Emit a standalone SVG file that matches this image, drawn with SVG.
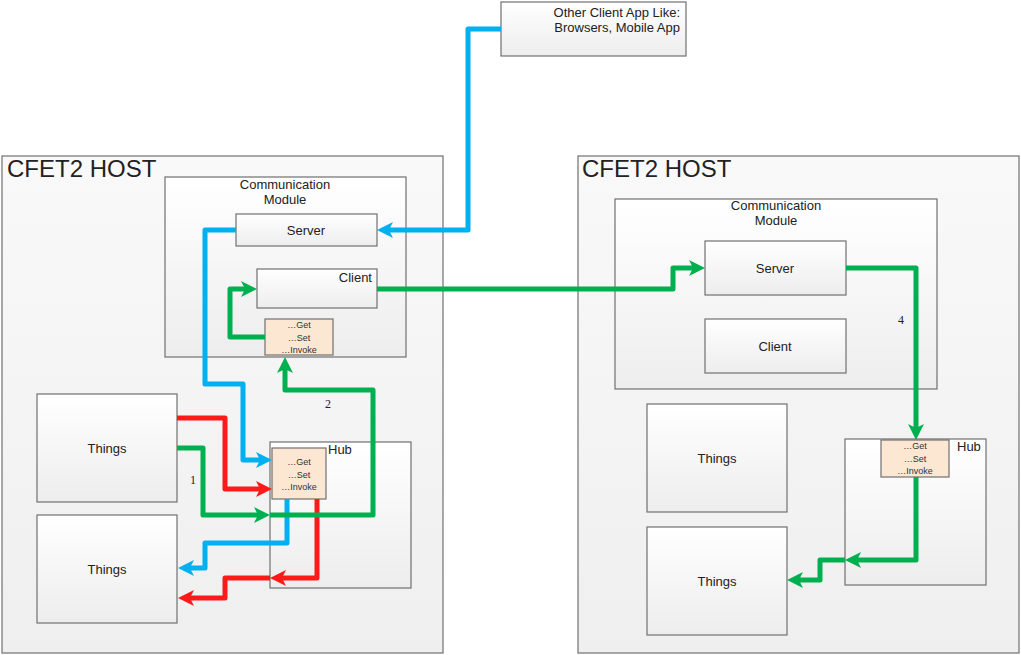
<svg xmlns="http://www.w3.org/2000/svg" width="1021" height="655" viewBox="0 0 1021 655">
<style>
.box{stroke:#707070;stroke-width:1.2;fill:url(#g)}
.host{stroke:#707070;stroke-width:1.2;fill:url(#gh)}
.op{stroke:#707070;stroke-width:1.2;fill:#FCE7D2}
.t{font-family:"Liberation Sans",Arial,sans-serif;font-size:13px;fill:#222}
.h{font-family:"Liberation Sans",Arial,sans-serif;font-size:24px;fill:#222}
.s{font-family:"Liberation Sans",Arial,sans-serif;font-size:9px;fill:#333;text-anchor:middle}
.n{font-family:"Liberation Serif","Times New Roman",serif;font-size:12px;fill:#222}
.c{fill:none;stroke-width:5;stroke-linejoin:round;stroke-linecap:butt}
.b{stroke:#00B0F0}.r{stroke:#FF1A1A}.gr{stroke:#00B050}
</style>
<defs>
<linearGradient id="g" x1="0" y1="0" x2="0" y2="1"><stop offset="0" stop-color="#FFFFFF"/><stop offset="1" stop-color="#EDEDED"/></linearGradient>
<linearGradient id="gh" x1="0" y1="0" x2="0" y2="1"><stop offset="0" stop-color="#F9F9F9"/><stop offset="1" stop-color="#EFEFEF"/></linearGradient>
<marker id="ab" markerUnits="userSpaceOnUse" markerWidth="18" markerHeight="18" refX="6" refY="8" orient="auto"><path d="M0,0 L16,8 L0,16 L4,8 z" fill="#00B0F0"/></marker>
<marker id="ar" markerUnits="userSpaceOnUse" markerWidth="18" markerHeight="18" refX="6" refY="8" orient="auto"><path d="M0,0 L16,8 L0,16 L4,8 z" fill="#FF1A1A"/></marker>
<marker id="ag" markerUnits="userSpaceOnUse" markerWidth="18" markerHeight="18" refX="6" refY="8" orient="auto"><path d="M0,0 L16,8 L0,16 L4,8 z" fill="#00B050"/></marker>
</defs>
<rect width="1021" height="655" fill="#FFFFFF"/>

<g id="client-app">
<rect class="box" x="501" y="2" width="185" height="54"/>
<text class="t" x="680" y="17" text-anchor="end">Other Client App Like:</text>
<text class="t" x="680" y="32" text-anchor="end">Browsers, Mobile App</text>
</g>

<g id="host-left">
<rect class="host" x="2" y="156" width="441" height="497"/>
<text class="h" x="7" y="177">CFET2 HOST</text>
</g>
<g id="comm-left">
<rect class="box" x="165" y="177" width="241" height="180"/>
<text class="t" x="285" y="189" text-anchor="middle">Communication</text>
<text class="t" x="285" y="204" text-anchor="middle">Module</text>
</g>
<g id="server-left">
<rect class="box" x="236" y="214" width="141" height="32"/>
<text class="t" x="306" y="235" text-anchor="middle">Server</text>
</g>
<g id="client-left">
<rect class="box" x="257" y="269" width="120" height="39"/>
<text class="t" x="372" y="282" text-anchor="end">Client</text>
</g>
<g id="ops-comm-left">
<rect class="op" x="265" y="319" width="68" height="36"/>
<text class="s" x="299" y="328">…Get</text>
<text class="s" x="299" y="341">…Set</text>
<text class="s" x="299" y="353">…Invoke</text>
</g>
<g id="things-left-1">
<rect class="box" x="37" y="394" width="140" height="108"/>
<text class="t" x="107" y="453" text-anchor="middle">Things</text>
</g>
<g id="things-left-2">
<rect class="box" x="37" y="515" width="140" height="108"/>
<text class="t" x="107" y="574" text-anchor="middle">Things</text>
</g>
<g id="hub-left">
<rect class="box" x="270" y="442" width="141" height="146"/>
<text class="t" x="328" y="454">Hub</text>
</g>
<g id="ops-hub-left">
<rect class="op" x="272" y="448" width="54" height="51"/>
<text class="s" x="299" y="465">…Get</text>
<text class="s" x="299" y="478">…Set</text>
<text class="s" x="299" y="490">…Invoke</text>
</g>

<g id="host-right">
<rect class="host" x="578" y="156" width="441" height="497"/>
<text class="h" x="582" y="177">CFET2 HOST</text>
</g>
<g id="comm-right">
<rect class="box" x="615" y="199" width="322" height="190"/>
<text class="t" x="776" y="210" text-anchor="middle">Communication</text>
<text class="t" x="776" y="225" text-anchor="middle">Module</text>
</g>
<g id="server-right">
<rect class="box" x="705" y="241" width="141" height="54"/>
<text class="t" x="775" y="273" text-anchor="middle">Server</text>
</g>
<g id="client-right">
<rect class="box" x="705" y="319" width="141" height="54"/>
<text class="t" x="775" y="351" text-anchor="middle">Client</text>
</g>
<g id="things-right-1">
<rect class="box" x="647" y="404" width="140" height="108"/>
<text class="t" x="717" y="463" text-anchor="middle">Things</text>
</g>
<g id="things-right-2">
<rect class="box" x="647" y="527" width="140" height="108"/>
<text class="t" x="717" y="586" text-anchor="middle">Things</text>
</g>
<g id="hub-right">
<rect class="box" x="845" y="439" width="141" height="146"/>
<text class="t" x="957" y="451">Hub</text>
</g>
<g id="ops-hub-right">
<rect class="op" x="881" y="440" width="68" height="37"/>
<text class="s" x="915" y="449">…Get</text>
<text class="s" x="915" y="462">…Set</text>
<text class="s" x="915" y="474">…Invoke</text>
</g>

<g id="connectors">
<path class="c b" d="M501,29 H468 V230 H387" marker-end="url(#ab)"/>
<path class="c b" d="M236,230 H205 V384 H243 V460 H262" marker-end="url(#ab)"/>
<path class="c b" d="M287,499 V543 H205 V568 H188" marker-end="url(#ab)"/>
<path class="c r" d="M177,418 H225 V489 H262" marker-end="url(#ar)"/>
<path class="c r" d="M317,499 V578 H280" marker-end="url(#ar)"/>
<path class="c r" d="M270,578 H225 V598 H188" marker-end="url(#ar)"/>
<path class="c gr" d="M177,448 H203 V515 H260" marker-end="url(#ag)"/>
<path class="c gr" d="M270,515 H373 V390 H285 V367" marker-end="url(#ag)"/>
<path class="c gr" d="M265,337 H230 V289 H247" marker-end="url(#ag)"/>
<path class="c gr" d="M377,289 H673 V268 H695" marker-end="url(#ag)"/>
<path class="c gr" d="M846,268 H916 V430" marker-end="url(#ag)"/>
<path class="c gr" d="M916,477 V560 H855" marker-end="url(#ag)"/>
<path class="c gr" d="M845,560 H820 V580 H797" marker-end="url(#ag)"/>
<text class="n" x="190" y="484">1</text>
<text class="n" x="325" y="408">2</text>
<text class="n" x="898" y="324">4</text>
</g>
</svg>
